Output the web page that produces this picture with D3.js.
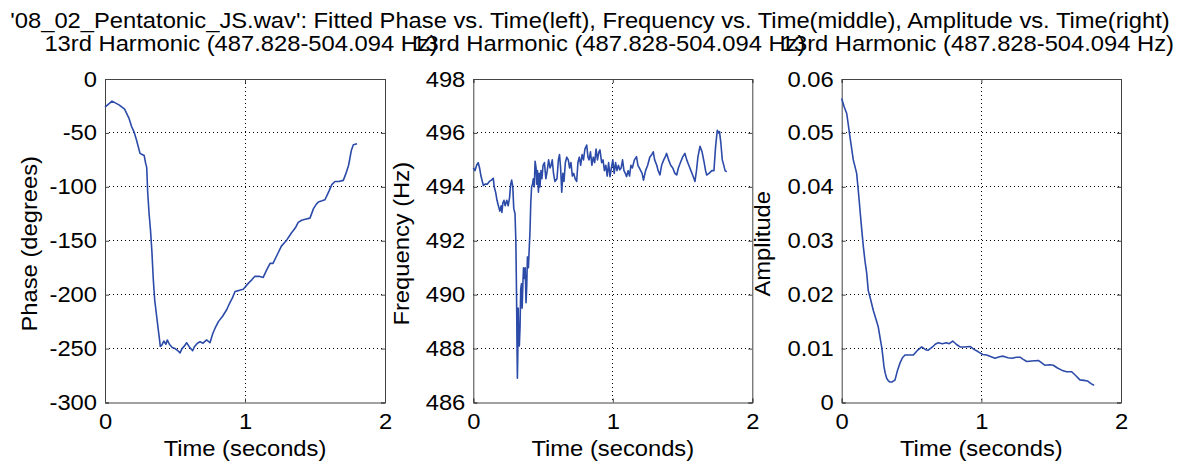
<!DOCTYPE html>
<html><head><meta charset="utf-8">
<script src="https://cdn.jsdelivr.net/npm/d3@7"></script>
<style>body{margin:0;background:#fff}svg{display:block}text{font-family:"Liberation Sans",Arial,sans-serif;fill:#000}</style>
</head><body><svg id="c" width="1179" height="464"></svg>
<script>
const mainTitle = "'08_02_Pentatonic_JS.wav': Fitted Phase vs. Time(left), Frequency vs. Time(middle), Amplitude vs. Time(right)";
const subTitle = "13rd Harmonic (487.828-504.094 Hz)";
const xTicks = [0, 1, 2];
const phaseTicks = [0, -50, -100, -150, -200, -250, -300];
const freqTicks = [498, 496, 494, 492, 490, 488, 486];
const ampTicks = [0.06, 0.05, 0.04, 0.03, 0.02, 0.01, 0];

const phaseT = [0,0.05,0.1,0.14,0.17,0.19,0.21,0.226,0.25,0.265,0.28,0.29,0.298,0.305,0.315,0.325,0.335,0.345,0.355,0.369,0.38,0.388,0.395,0.405,0.42,0.435,0.445,0.46,0.48,0.5,0.52,0.536,0.55,0.565,0.583,0.6,0.626,0.64,0.66,0.679,0.7,0.726,0.75,0.77,0.79,0.81,0.84,0.869,0.89,0.91,0.929,0.96,0.988,1.02,1.05,1.071,1.1,1.13,1.155,1.179,1.2,1.23,1.26,1.28,1.3,1.33,1.36,1.38,1.405,1.43,1.464,1.49,1.51,1.524,1.55,1.571,1.6,1.62,1.643,1.67,1.702,1.72,1.74,1.76,1.774,1.8];
const phaseV = [-26,-20.5,-24,-28,-36,-44,-50,-57,-69,-70,-71,-78,-82,-105,-125,-140,-160,-186,-205,-220,-232,-240,-248,-247,-243,-246,-242,-246,-249,-250,-252,-254,-250,-248,-244.6,-248,-252,-248,-245,-243.7,-245,-242,-244.6,-236,-230,-225,-220,-214,-208,-203,-197,-196,-195,-190,-186,-183,-183,-184,-177,-171,-171,-163,-155,-152,-149,-143,-138,-133,-131,-130,-129,-120,-116,-114,-113,-112,-104,-98,-95,-95,-94,-88,-80,-66,-61,-60];

const freqT = [0,0.012,0.024,0.035,0.045,0.055,0.065,0.072,0.085,0.1,0.115,0.13,0.143,0.15,0.16,0.17,0.18,0.19,0.2,0.205,0.212,0.22,0.228,0.24,0.25,0.26,0.268,0.275,0.283,0.29,0.299,0.305,0.31,0.313,0.316,0.319,0.322,0.325,0.33,0.335,0.34,0.345,0.35,0.356,0.36,0.366,0.372,0.378,0.383,0.388,0.395,0.4,0.406,0.412,0.418,0.425,0.43,0.437,0.443,0.45,0.455,0.46,0.467,0.472,0.478,0.485,0.492,0.5,0.51,0.52,0.53,0.54,0.55,0.558,0.566,0.575,0.585,0.6,0.61,0.618,0.626,0.634,0.642,0.65,0.66,0.67,0.681,0.69,0.7,0.71,0.72,0.73,0.741,0.75,0.76,0.77,0.78,0.79,0.8,0.813,0.822,0.83,0.84,0.85,0.86,0.87,0.88,0.89,0.9,0.908,0.92,0.93,0.94,0.95,0.96,0.97,0.98,0.99,1.0,1.01,1.02,1.03,1.04,1.05,1.06,1.07,1.08,1.09,1.099,1.11,1.12,1.13,1.14,1.155,1.17,1.18,1.19,1.2,1.21,1.22,1.235,1.25,1.265,1.28,1.29,1.3,1.315,1.325,1.338,1.35,1.365,1.375,1.386,1.4,1.415,1.43,1.445,1.458,1.47,1.485,1.5,1.517,1.53,1.545,1.56,1.575,1.589,1.6,1.61,1.625,1.64,1.655,1.665,1.673,1.69,1.71,1.725,1.737,1.749,1.758,1.765,1.775,1.785,1.792,1.805,1.817];
const freqV = [494.7,494.6,494.8,494.9,494.7,494.4,494.2,494.05,494.1,494.1,494.2,494.25,494.32,494.0,493.8,493.5,493.3,493.1,493.3,493.05,493.4,493.5,493.3,493.5,493.3,493.6,494.1,494.25,494.0,493.2,493.0,492.0,490.0,488.3,486.9,487.8,489.5,488.5,488.1,488.8,490.2,490.4,489.5,490.5,491.0,490.6,491.0,489.7,490.3,491.4,491.0,491.6,492.3,493.4,494.0,494.1,494.3,494.0,494.95,494.7,494.1,494.6,493.8,494.5,494.0,494.6,494.3,494.8,494.9,494.3,494.6,495.0,494.7,494.8,495.0,494.5,494.2,494.3,495.0,495.2,494.7,493.8,494.5,494.2,494.9,495.1,495.0,494.7,494.9,494.4,494.5,494.3,494.2,494.9,495.1,494.8,495.2,495.0,495.4,495.55,495.1,495.0,495.3,494.8,495.1,494.9,495.4,495.0,495.3,495.37,494.9,495.0,494.6,494.8,494.4,494.9,494.38,494.7,495.0,494.5,494.9,494.6,494.8,494.63,494.7,495.0,494.6,494.5,494.38,494.6,494.4,494.8,494.7,495.0,495.12,494.8,494.7,494.6,494.5,494.25,494.6,494.8,495.1,495.2,495.3,495.0,494.8,494.6,494.44,494.8,495.0,495.1,495.24,495.0,494.8,494.7,494.5,494.44,494.7,494.9,495.1,495.24,495.0,494.8,494.6,494.4,494.2,494.6,495.1,495.5,495.3,494.9,494.6,494.44,494.5,494.6,494.6,495.5,496.1,496.0,496.05,495.6,495.0,494.87,494.6,494.56];

const ampT = [0,0.018,0.036,0.059,0.083,0.095,0.107,0.12,0.131,0.143,0.155,0.167,0.179,0.19,0.208,0.226,0.245,0.262,0.275,0.286,0.295,0.303,0.312,0.322,0.334,0.346,0.36,0.372,0.382,0.4,0.417,0.435,0.453,0.48,0.513,0.54,0.573,0.6,0.62,0.65,0.67,0.692,0.72,0.75,0.77,0.795,0.82,0.847,0.88,0.919,0.95,0.978,1.01,1.038,1.07,1.098,1.13,1.157,1.19,1.22,1.25,1.277,1.3,1.325,1.36,1.408,1.43,1.456,1.49,1.515,1.545,1.575,1.61,1.647,1.675,1.706,1.735,1.76,1.785,1.807];
const ampV = [0.0564,0.0548,0.0536,0.0493,0.045,0.0438,0.0425,0.039,0.0357,0.0322,0.0289,0.0262,0.024,0.0208,0.019,0.0171,0.0155,0.014,0.012,0.0103,0.0085,0.0066,0.0054,0.0045,0.004,0.0038,0.0038,0.004,0.0042,0.006,0.0073,0.0083,0.0088,0.0088,0.0088,0.0096,0.0103,0.0098,0.0097,0.0103,0.0108,0.0111,0.0109,0.0111,0.0109,0.0114,0.0108,0.0103,0.0103,0.0104,0.0098,0.0094,0.0089,0.0088,0.0085,0.0082,0.0085,0.0086,0.0083,0.0082,0.0084,0.0084,0.008,0.0076,0.0077,0.0078,0.0074,0.0069,0.007,0.0069,0.0064,0.006,0.0057,0.0057,0.005,0.0042,0.0041,0.004,0.0035,0.0032];

const svg = d3.select("#c");
const FS = 22, SX = 1.08;
const addText = (parent, x, y, txt, rot) => parent.append("text")
  .attr("transform", `translate(${x},${y})` + (rot ? " rotate(-90)" : "") + ` scale(${SX},1)`)
  .attr("text-anchor", "middle").style("font-size", FS + "px").text(txt);

addText(svg, 590, 28, mainTitle);

const plotTop = 79, plotBottom = 402.5;
const panels = [
  {left: 105, right: 385, dom: [-300, 0], ticks: phaseTicks, fmt: d => d, label: "Phase (degrees)", lx: 37, t: phaseT, v: phaseV},
  {left: 473.3, right: 752.3, dom: [486, 498], ticks: freqTicks, fmt: d => d, label: "Frequency (Hz)", lx: 409, t: freqT, v: freqV},
  {left: 841.7, right: 1121, dom: [0, 0.06], ticks: ampTicks, fmt: d => d === 0 ? "0" : d3.format(".2f")(d), label: "Amplitude", lx: 770, t: ampT, v: ampV}
];

panels.forEach(p => {
  const x = d3.scaleLinear().domain([0, 2]).range([p.left, p.right]);
  const y = d3.scaleLinear().domain(p.dom).range([plotBottom, plotTop]);
  const g = svg.append("g");
  const yInner = p.ticks.filter(d => d !== p.dom[0] && d !== p.dom[1]);
  g.selectAll(".gy").data(yInner).join("line")
    .attr("x1", p.left).attr("x2", p.right).attr("y1", d => y(d)).attr("y2", d => y(d))
    .attr("stroke", "#000").attr("stroke-width", 1).attr("stroke-dasharray", "1,3").attr("shape-rendering", "crispEdges");
  g.selectAll(".gx").data([1]).join("line")
    .attr("x1", d => x(d)).attr("x2", d => x(d)).attr("y1", plotTop).attr("y2", plotBottom)
    .attr("stroke", "#000").attr("stroke-width", 1).attr("stroke-dasharray", "1,3").attr("shape-rendering", "crispEdges");
  const ax = d3.axisBottom(x).tickValues(xTicks).tickSize(-4).tickPadding(11).tickFormat(d => d);
  const axT = d3.axisTop(x).tickValues(xTicks).tickSize(-4).tickFormat("");
  const ay = d3.axisLeft(y).tickValues(p.ticks).tickSize(-4).tickPadding(8).tickFormat(p.fmt);
  const ayR = d3.axisRight(y).tickValues(p.ticks).tickSize(-4).tickFormat("");
  const styleAx = s => {
    s.selectAll("path.domain").attr("stroke", "#444").attr("stroke-width", 1);
    s.selectAll(".tick line").attr("stroke", "#444");
    s.selectAll("text").style("font-size", FS + "px").style("font-family", '"Liberation Sans",Arial,sans-serif').attr("fill", "#000")
      .each(function() {
        const t = d3.select(this);
        const tx = +t.attr("x") || 0;
        t.attr("x", 0).attr("transform", `translate(${tx},0) scale(${SX},1)`);
      });
  };
  g.append("g").attr("transform", `translate(0,${plotBottom})`).call(ax).call(styleAx);
  g.append("g").attr("transform", `translate(0,${plotTop})`).call(axT).call(styleAx);
  g.append("g").attr("transform", `translate(${p.left},0)`).call(ay).call(styleAx);
  g.append("g").attr("transform", `translate(${p.right},0)`).call(ayR).call(styleAx);
  const data = p.t.map((t, i) => [t, p.v[i]]);
  g.append("path").datum(data).attr("fill", "none").attr("stroke", "#2c4ba9").attr("stroke-width", 1.6)
    .attr("stroke-linejoin", "round").attr("d", d3.line().x(d => x(d[0])).y(d => y(d[1])));
  addText(g, (p.left + p.right) / 2 - 4, 51, subTitle);
  addText(g, (p.left + p.right) / 2, 456, "Time (seconds)");
  addText(g, p.lx, (plotTop + plotBottom) / 2 + 3, p.label, true);
});
</script></body></html>
